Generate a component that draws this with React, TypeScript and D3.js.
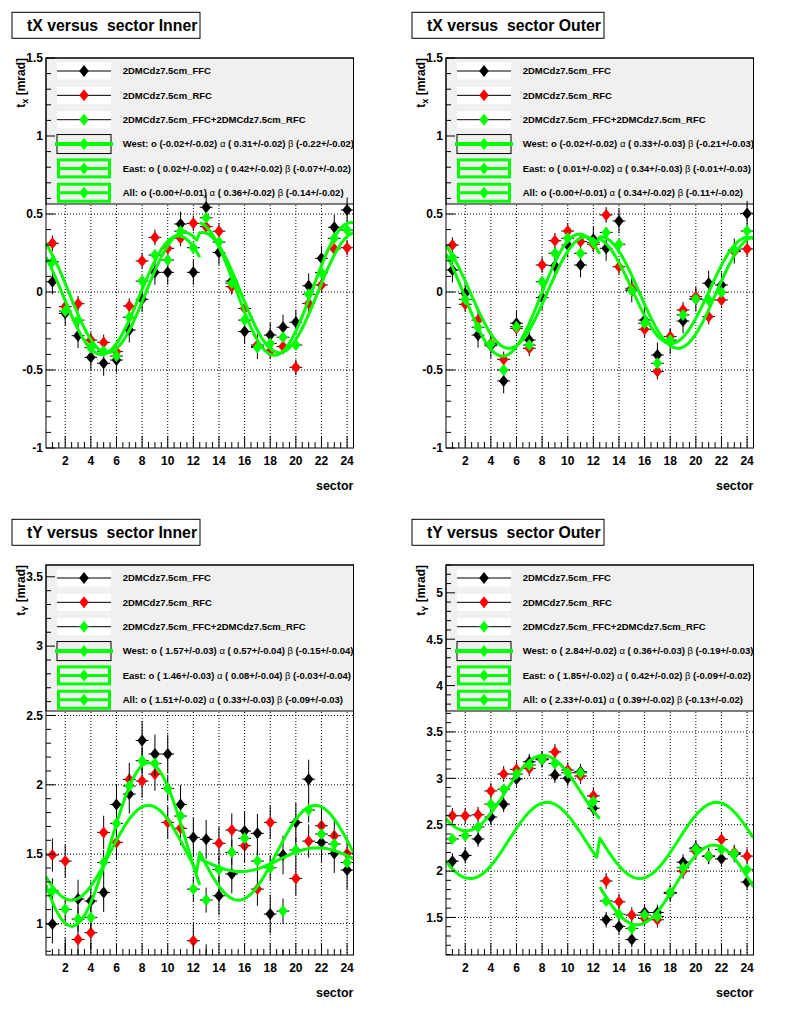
import React from 'react';
import * as d3 from 'd3';

const sectors = [1, 2, 3, 4, 5, 6, 7, 8, 9, 10, 11, 12, 13, 14, 15, 16, 17, 18, 19, 20, 21, 22, 23, 24];
const xTickLabels = [2, 4, 6, 8, 10, 12, 14, 16, 18, 20, 22, 24];
const seriesNames = ['2DMCdz7.5cm_FFC', '2DMCdz7.5cm_RFC', '2DMCdz7.5cm_FFC+2DMCdz7.5cm_RFC'];
const seriesColors = ['#000000', '#ff0000', '#00ff00'];
const fitNames = ['West', 'East', 'All'];

// tX Inner
const txInnerFFC = [0.066, -0.137, -0.28, -0.419, -0.457, -0.436, -0.244, -0.047, 0.126, 0.126, 0.436, 0.126, 0.543, 0.254, 0.07, -0.254, -0.35, -0.276, -0.226, -0.194, 0.04, 0.216, 0.415, 0.526];
const txInnerRFC = [0.312, -0.094, -0.075, -0.308, -0.323, -0.382, -0.09, 0.199, 0.35, 0.28, 0.344, 0.44, 0.419, 0.39, 0.034, -0.105, -0.34, -0.38, -0.35, -0.483, -0.073, 0.045, 0.276, 0.284];
const txInnerSum = [0.194, -0.122, -0.18, -0.357, -0.38, -0.41, -0.162, 0.07, 0.237, 0.205, 0.39, 0.284, 0.476, 0.32, 0.056, -0.18, -0.355, -0.33, -0.29, -0.34, -0.015, 0.124, 0.344, 0.397];
const txInnerErrs = [0.08, 0.05, 0.035];
const txInnerWest = [-0.02, 0.31, -0.22];
const txInnerEast = [0.02, 0.42, -0.07];
const txInnerAll = [-0.004, 0.36, -0.14];
const txInnerWestErr = [0.02, 0.02, 0.02];
const txInnerEastErr = [0.02, 0.02, 0.02];
const txInnerAllErr = [0.01, 0.02, 0.02];

// tX Outer
const txOuterFFC = [0.141, -0.009, -0.276, -0.345, -0.57, -0.2, -0.308, -0.036, 0.169, 0.301, 0.173, 0.338, 0.28, 0.455, 0.013, -0.18, -0.404, -0.318, -0.186, -0.045, 0.056, 0.045, 0.263, 0.504];
const txOuterRFC = [0.301, -0.079, -0.18, -0.33, -0.432, -0.233, -0.361, 0.173, 0.329, 0.391, 0.323, 0.306, 0.494, 0.162, 0.024, -0.239, -0.51, -0.286, -0.115, -0.03, -0.158, -0.051, 0.259, 0.276];
const txOuterSum = [0.222, -0.047, -0.226, -0.335, -0.5, -0.222, -0.34, 0.066, 0.248, 0.344, 0.248, 0.318, 0.382, 0.306, 0.009, -0.2, -0.457, -0.308, -0.147, -0.045, -0.051, -0.002, 0.269, 0.391];
const txOuterErrs = [0.08, 0.05, 0.035];
const txOuterWest = [-0.02, 0.33, -0.21];
const txOuterEast = [0.01, 0.34, -0.01];
const txOuterAll = [-0.004, 0.34, -0.11];
const txOuterWestErr = [0.02, 0.03, 0.03];
const txOuterEastErr = [0.02, 0.03, 0.03];
const txOuterAllErr = [0.01, 0.02, 0.02];

// tY Inner
const tyInnerFFC = [0.996, 0.76, 1.176, 1.162, 1.224, 1.859, 1.933, 2.32, 2.222, 2.222, 1.859, 1.621, 1.607, 1.2, 1.357, 1.667, 1.65, 1.068, 1.494, 1.729, 2.041, 1.585, 1.505, 1.385];
const tyInnerRFC = [1.494, 1.45, 0.885, 0.934, 1.657, 1.585, 2.039, 2.027, 2.077, 1.729, 1.686, 0.876, 0.73, 1.578, 1.674, 1.561, 1.248, 1.729, 0.69, 1.325, 1.594, 1.705, 1.633, 1.505];
const tyInnerSum = [1.236, 1.102, 1.032, 1.044, 1.44, 1.722, 1.991, 2.174, 2.154, 1.974, 1.775, 1.248, 1.169, 1.39, 1.513, 1.614, 1.45, 1.402, 1.09, 1.53, 1.818, 1.645, 1.573, 1.44];
const tyInnerErrs = [0.14, 0.12, 0.09];
const tyInnerWest = [1.57, 0.57, -0.15];
const tyInnerEast = [1.46, 0.08, -0.03];
const tyInnerAll = [1.51, 0.33, -0.09];
const tyInnerWestErr = [0.03, 0.04, 0.04];
const tyInnerEastErr = [0.03, 0.04, 0.04];
const tyInnerAllErr = [0.02, 0.03, 0.03];

// tY Outer
const tyOuterFFC = [2.107, 2.168, 2.346, 2.582, 2.721, 2.993, 3.178, 3.2, 3.035, 3.0, 3.071, 2.678, 1.475, 1.403, 1.261, 1.553, 1.553, 1.76, 2.096, 2.25, 2.16, 2.132, 2.18, 1.882];
const tyOuterRFC = [2.596, 2.596, 2.607, 2.864, 3.046, 3.096, 3.107, 3.21, 3.285, 3.089, 3.025, 2.811, 1.893, 1.668, 1.525, 1.489, 1.475, 1.77, 2.0, 2.214, 2.16, 2.339, 2.2, 2.161];
const tyOuterSum = [2.346, 2.382, 2.475, 2.721, 2.882, 3.046, 3.143, 3.203, 3.16, 3.06, 3.06, 2.75, 1.678, 1.535, 1.382, 1.525, 1.51, 1.768, 2.036, 2.239, 2.161, 2.232, 2.189, 2.018];
const tyOuterErrs = [0.085, 0.085, 0.05];
const tyOuterWest = [2.84, 0.36, -0.19];
const tyOuterEast = [1.85, 0.42, -0.09];
const tyOuterAll = [2.33, 0.39, -0.13];
const tyOuterWestErr = [0.02, 0.03, 0.03];
const tyOuterEastErr = [0.02, 0.02, 0.02];
const tyOuterAllErr = [0.01, 0.02, 0.02];

const txYTicks = [-1, -0.5, 0, 0.5, 1, 1.5];
const tyInnerYTicks = [1, 1.5, 2, 2.5, 3, 3.5];
const tyOuterYTicks = [1.5, 2, 2.5, 3, 3.5, 4, 4.5, 5];

const FONT = "'Liberation Sans', Arial, Helvetica, sans-serif";
const W = 307.5;
const H = 390;

const fmt = (v: number) => (v < 0 ? v.toFixed(2) : ' ' + v.toFixed(2));

function diamond(cx: number, cy: number) {
  return `M${cx},${cy - 6}L${cx + 4.8},${cy}L${cx},${cy + 6}L${cx - 4.8},${cy}Z`;
}

type PanelProps = {
  id: string;
  left: number;
  top: number;
  title: string;
  titleW: number;
  sub: string;
  yDomain: [number, number];
  yTicks: number[];
  series: number[][];
  errs: number[];
  fits: number[][];
  fitErrs: number[][];
  model: 'x' | 'y';
};

function Panel(props: PanelProps) {
  const { id, left, top, title, titleW, sub, yDomain, yTicks, series, errs, fits, fitErrs, model } = props;
  const x = d3.scaleLinear().domain([0.5, 24.5]).range([left, left + W]);
  const y = d3.scaleLinear().domain(yDomain).range([top + H, top]);
  const yMinor = d3.range(Math.ceil(yDomain[0] * 10 - 1e-6), Math.floor(yDomain[1] * 10 + 1e-6) + 1).map((k) => k / 10);
  const xMinor = d3.range(1, 49).map((k) => 0.5 + k * 0.5);

  const fitFn = (s: number, prm: number[], side: number) => {
    const ph = (s * Math.PI) / 6;
    return model === 'x'
      ? prm[0] + prm[1] * Math.cos(ph) + side * prm[2] * Math.sin(ph)
      : prm[0] - prm[1] * Math.sin(ph) + side * prm[2] * Math.cos(ph);
  };
  const line = d3
    .line<[number, number]>()
    .x((d) => x(d[0]))
    .y((d) => y(d[1]));
  const westPts = d3.range(0, 101).map((i) => {
    const s = 0.5 + i * 0.12;
    return [s, fitFn(s, fits[0], 1)] as [number, number];
  });
  const eastPts = d3.range(0, 101).map((i) => {
    const s = 12.5 + i * 0.12;
    return [s, fitFn(s, fits[1], -1)] as [number, number];
  });
  const allPts = d3.range(0, 101).map((i) => {
    const s = 0.5 + i * 0.24;
    return [s, fitFn(s, fits[2], i < 50 ? 1 : -1)] as [number, number];
  });

  const legTop = top;
  const legH = 146;
  const rowY = (i: number) => legTop + 13 + 24.35 * i;
  const symL = left + 11;
  const symW = 54;
  const symC = symL + symW / 2;

  const clipId = `clip-${id}`;

  return (
    <g fontFamily={FONT}>
      <defs>
        <clipPath id={clipId}>
          <rect x={left} y={top} width={W} height={H} />
        </clipPath>
      </defs>
      {/* title */}
      <rect x={left - 34} y={top - 45.7} width={titleW} height={26} fill="#fff" stroke="#000" strokeWidth={1} />
      <text x={left - 19} y={top - 27} fontSize={15.8} fontWeight="bold" style={{ whiteSpace: 'pre' }}>
        {title}
      </text>
      {/* frame background */}
      <rect x={left} y={top} width={W} height={H} fill="#fff" />
      {/* grid */}
      <g stroke="#000" strokeWidth={1} strokeDasharray="1,2">
        {xTickLabels.map((t) => (
          <line key={'gx' + t} x1={x(t)} x2={x(t)} y1={top} y2={top + H} />
        ))}
        {yTicks
          .filter((t) => t > yDomain[0] + 1e-6 && t < yDomain[1] - 1e-6)
          .map((t) => (
            <line key={'gy' + t} x1={left} x2={left + W} y1={y(t)} y2={y(t)} />
          ))}
      </g>
      {/* legend */}
      <rect x={left} y={legTop} width={W} height={legH} fill="#f0f0f0" stroke="#000" strokeWidth={1} />
      {seriesNames.map((nm, i) => (
        <g key={'ls' + i}>
          <rect x={symL} y={rowY(i) - 8.5} width={symW} height={17} fill="#fff" />
          <line x1={symL} x2={symL + symW} y1={rowY(i)} y2={rowY(i)} stroke="#000" strokeWidth={1} />
          <path d={diamond(symC, rowY(i))} fill={seriesColors[i]} />
          <text x={left + 76.7} y={rowY(i)} dy="0.35em" fontSize={9.5} fontWeight="bold">
            {nm}
          </text>
        </g>
      ))}
      {fitNames.map((nm, j) => {
        const i = j + 3;
        const cy = rowY(i);
        const p = fits[j];
        const e = fitErrs[j];
        return (
          <g key={'lf' + j}>
            {j === 0 ? (
              <>
                <rect x={symL} y={cy - 9.5} width={symW} height={19} fill="none" stroke="#000" strokeWidth={1} />
                <line x1={symL - 2} x2={symL + symW + 2} y1={cy} y2={cy} stroke="#00ff00" strokeWidth={4} />
              </>
            ) : (
              <>
                <rect x={symL + 1.5} y={cy - 8.5} width={symW - 3} height={17} fill="none" stroke="#00ff00" strokeWidth={3} />
                <line x1={symL + 1.5} x2={symL + symW - 1.5} y1={cy} y2={cy} stroke="#00ff00" strokeWidth={3} />
              </>
            )}
            <path d={diamond(symC, cy)} fill="#00ff00" />
            <text x={left + 76.7} y={cy} dy="0.35em" fontSize={9.5} fontWeight="bold" style={{ whiteSpace: 'pre' }}>
              {`${nm}: o (${fmt(p[0])}+/-${e[0].toFixed(2)}) `}
              <tspan fontWeight="normal">α</tspan>
              {` (${fmt(p[1])}+/-${e[1].toFixed(2)}) `}
              <tspan fontWeight="normal">β</tspan>
              {` (${fmt(p[2])}+/-${e[2].toFixed(2)})`}
            </text>
          </g>
        );
      })}
      {/* data */}
      <g clipPath={`url(#${clipId})`}>
        {series.map((vals, si) => (
          <g key={'s' + si}>
            {vals.map((v, k) => {
              const s = sectors[k];
              return (
                <g key={k}>
                  <line x1={x(s)} x2={x(s)} y1={y(v - errs[si])} y2={y(v + errs[si])} stroke="#000" strokeWidth={1} />
                  <line x1={x(s - 0.5)} x2={x(s + 0.5)} y1={y(v)} y2={y(v)} stroke="#000" strokeWidth={1} />
                  {v >= yDomain[0] && v <= yDomain[1] ? <path d={diamond(x(s), y(v))} fill={seriesColors[si]} /> : null}
                </g>
              );
            })}
          </g>
        ))}
        <g fill="none" stroke="#00ff00" strokeWidth={3} strokeLinejoin="round">
          <path d={line(westPts) || ''} />
          <path d={line(eastPts) || ''} />
          <path d={line(allPts) || ''} />
        </g>
      </g>
      {/* frame */}
      <rect x={left} y={top} width={W} height={H} fill="none" stroke="#000" strokeWidth={1} />
      {/* y axis ticks */}
      <g stroke="#000" strokeWidth={1}>
        {yMinor.map((t) => {
          const major = Math.abs(t * 2 - Math.round(t * 2)) < 1e-6;
          return <line key={'ym' + t} x1={left} x2={left + (major ? 9 : 5)} y1={y(t)} y2={y(t)} />;
        })}
        {xMinor.map((t) => {
          const major = Math.abs(t / 2 - Math.round(t / 2)) < 1e-6;
          return <line key={'xm' + t} x1={x(t)} x2={x(t)} y1={top + H} y2={top + H - (major ? 12 : 6)} />;
        })}
      </g>
      {yTicks.map((t) => (
        <text key={'yl' + t} x={left - 3} y={y(t)} dy="0.36em" textAnchor="end" fontSize={12} fontWeight="bold">
          {String(t)}
        </text>
      ))}
      {xTickLabels.map((t) => (
        <text key={'xl' + t} x={x(t)} y={top + H + 17} textAnchor="middle" fontSize={12} fontWeight="bold">
          {String(t)}
        </text>
      ))}
      <text x={left + W} y={top + H + 42} textAnchor="end" fontSize={12.5} fontWeight="bold">
        sector
      </text>
      <text transform={`translate(${left - 21},${top}) rotate(-90)`} textAnchor="end" fontSize={12} fontWeight="bold">
        t
        <tspan dy="3" fontSize={9}>
          {sub}
        </tspan>
        <tspan dy="-3">{' [mrad]'}</tspan>
      </text>
    </g>
  );
}

export default function App() {
  return (
    <svg
      width={800}
      height={1014}
      viewBox="0 0 800 1014"
      style={{ position: 'absolute', left: 0, top: 0, background: '#fff' }}
    >
      <rect x={0} y={0} width={800} height={1014} fill="#fff" />
      <Panel
        id="a"
        left={46}
        top={58}
        title="tX versus  sector Inner"
        titleW={188}
        sub="x"
        yDomain={[-1, 1.5]}
        yTicks={txYTicks}
        series={[txInnerFFC, txInnerRFC, txInnerSum]}
        errs={txInnerErrs}
        fits={[txInnerWest, txInnerEast, txInnerAll]}
        fitErrs={[txInnerWestErr, txInnerEastErr, txInnerAllErr]}
        model="x"
      />
      <Panel
        id="b"
        left={446}
        top={58}
        title="tX versus  sector Outer"
        titleW={192}
        sub="x"
        yDomain={[-1, 1.5]}
        yTicks={txYTicks}
        series={[txOuterFFC, txOuterRFC, txOuterSum]}
        errs={txOuterErrs}
        fits={[txOuterWest, txOuterEast, txOuterAll]}
        fitErrs={[txOuterWestErr, txOuterEastErr, txOuterAllErr]}
        model="x"
      />
      <Panel
        id="c"
        left={46}
        top={565}
        title="tY versus  sector Inner"
        titleW={188}
        sub="Y"
        yDomain={[0.773, 3.585]}
        yTicks={tyInnerYTicks}
        series={[tyInnerFFC, tyInnerRFC, tyInnerSum]}
        errs={tyInnerErrs}
        fits={[tyInnerWest, tyInnerEast, tyInnerAll]}
        fitErrs={[tyInnerWestErr, tyInnerEastErr, tyInnerAllErr]}
        model="y"
      />
      <Panel
        id="d"
        left={446}
        top={565}
        title="tY versus  sector Outer"
        titleW={192}
        sub="Y"
        yDomain={[1.095, 5.3]}
        yTicks={tyOuterYTicks}
        series={[tyOuterFFC, tyOuterRFC, tyOuterSum]}
        errs={tyOuterErrs}
        fits={[tyOuterWest, tyOuterEast, tyOuterAll]}
        fitErrs={[tyOuterWestErr, tyOuterEastErr, tyOuterAllErr]}
        model="y"
      />
    </svg>
  );
}
